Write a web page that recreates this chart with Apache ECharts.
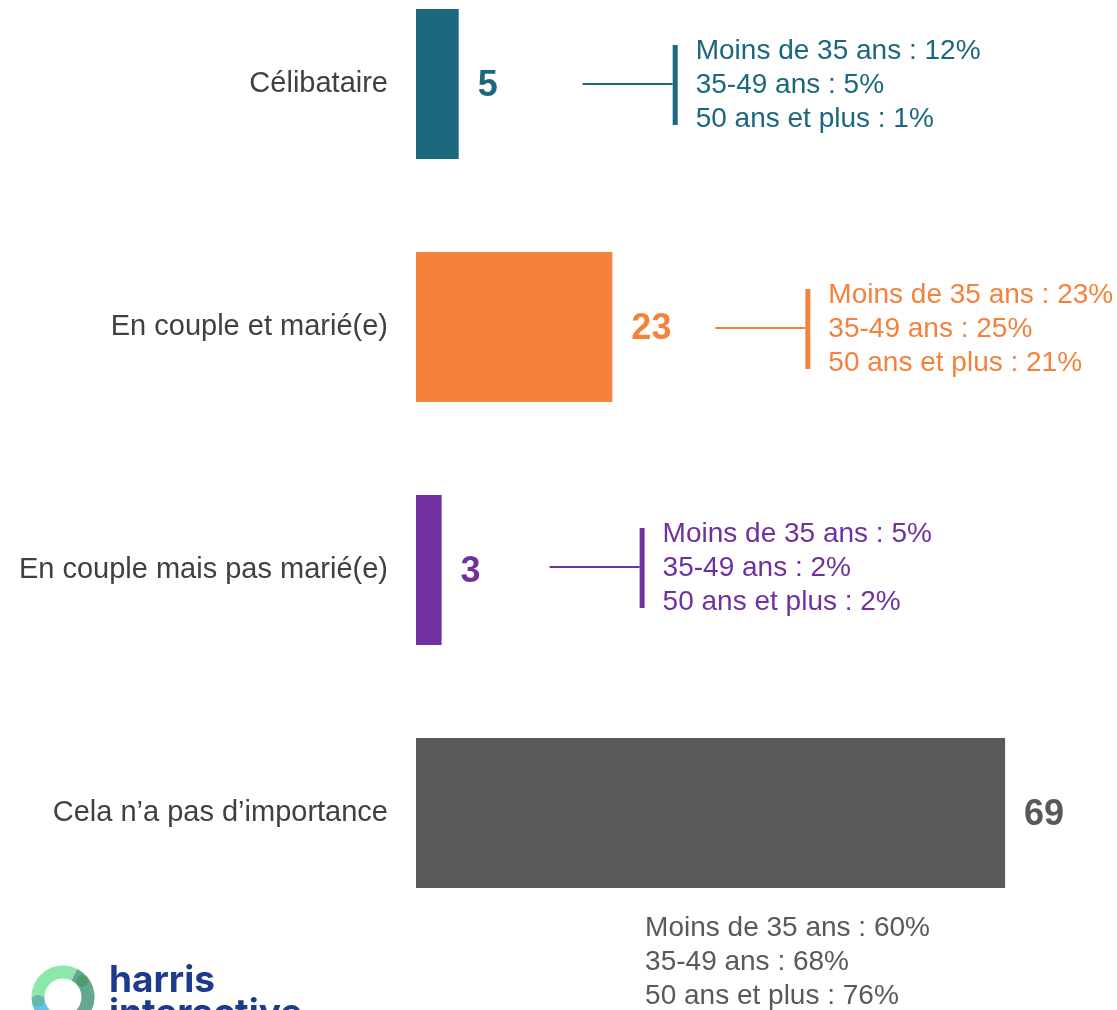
<!DOCTYPE html>
<html>
<head>
<meta charset="utf-8">
<script src="https://cdn.jsdelivr.net/npm/echarts@6/dist/echarts.min.js"></script>
<style>
  html, body { margin: 0; padding: 0; background: #fff; }
  #chart { width: 1117px; height: 1010px; }
</style>
</head>
<body>
<div id="chart"></div>
<script>
var categories = ['Célibataire', 'En couple et marié(e)', 'En couple mais pas marié(e)', 'Cela n’a pas d’importance'];
var values = [5, 23, 3, 69];
var ageLabels = ['Moins de 35 ans', '35-49 ans', '50 ans et plus'];
var under35 = [12, 23, 5, 60];
var age3549 = [5, 25, 2, 68];
var over50 = [1, 21, 2, 76];
var colors = ['#1B677D', '#F4823C', '#7030A0', '#595959'];

// where each age breakdown sits, relative to the end of its bar (px)
var notePos = [
  { dx: 124, dy: 1, bracket: true },
  { dx: 103, dy: 2, bracket: true },
  { dx: 108, dy: -2, bracket: true },
  { dx: -360, dy: 149, bracket: false }
];

var FONT = 'Liberation Sans, Arial, sans-serif';

var chart = echarts.init(document.getElementById('chart'));

var option = {
  animation: false,
  grid: { left: 416, top: -37.5, width: 683, height: 972, outerBoundsMode: 'none', containLabel: false },
  xAxis: {
    type: 'value',
    min: 0,
    max: 80,
    show: false
  },
  yAxis: {
    type: 'category',
    inverse: true,
    data: categories,
    axisLine: { show: false },
    axisTick: { show: false },
    axisLabel: {
      margin: 28,
      fontSize: 29,
      fontFamily: FONT,
      color: '#404040'
    }
  },
  series: [{
    type: 'bar',
    barWidth: 150,
    data: values.map(function (v, i) {
      return {
        value: v,
        itemStyle: { color: colors[i] },
        label: { color: colors[i] }
      };
    }),
    label: {
      show: true,
      position: 'right',
      distance: 19,
      offset: [0, 2],
      fontSize: 36,
      fontWeight: 'bold',
      fontFamily: FONT
    }
  }]
};
chart.setOption(option);

// age breakdown notes and logo
var graphics = [];
values.forEach(function (v, i) {
  var p = chart.convertToPixel({ seriesIndex: 0 }, [v, i]);
  var pos = notePos[i];
  var lines = [
    ageLabels[0] + ' : ' + under35[i] + '%',
    ageLabels[1] + ' : ' + age3549[i] + '%',
    ageLabels[2] + ' : ' + over50[i] + '%'
  ].join('\n');
  var yMid = p[1] + pos.dy;
  if (pos.bracket) {
    var x0 = p[0] + pos.dx;
    var x1 = x0 + 90;
    graphics.push({
      type: 'line',
      shape: { x1: x0, y1: yMid - 1, x2: x1, y2: yMid - 1 },
      style: { stroke: colors[i], lineWidth: 2 }
    });
    graphics.push({
      type: 'rect',
      shape: { x: x1, y: yMid - 40, width: 5, height: 80 },
      style: { fill: colors[i] }
    });
    graphics.push({
      type: 'text',
      x: x1 + 23,
      y: yMid,
      style: {
        text: lines,
        fill: colors[i],
        font: '28px ' + FONT,
        lineHeight: 34,
        verticalAlign: 'middle'
      }
    });
  } else {
    graphics.push({
      type: 'text',
      x: p[0] + pos.dx,
      y: yMid,
      style: {
        text: lines,
        fill: colors[i],
        font: '28px ' + FONT,
        lineHeight: 34,
        verticalAlign: 'middle'
      }
    });
  }
});

// harris interactive logo (cut by the bottom edge)
var cx = 63, cy = 997, r = 25;
[
  [Math.PI * 1.0, Math.PI * 1.65, '#8BE8AA'],
  [Math.PI * 1.65, Math.PI * 2.5, '#63A98F'],
  [Math.PI * 0.5, Math.PI * 1.0, '#5DC6EF']
].forEach(function (a) {
  graphics.push({
    type: 'arc',
    shape: { cx: cx, cy: cy, r: r, startAngle: a[0], endAngle: a[1] },
    style: { stroke: a[2], lineWidth: 13, fill: null }
  });
});
graphics.push({
  type: 'circle',
  shape: { cx: cx + r * Math.cos(Math.PI * 1.78), cy: cy + r * Math.sin(Math.PI * 1.78), r: 6 },
  style: { fill: '#4E9C6C' }
});
graphics.push({
  type: 'circle',
  shape: { cx: cx - r, cy: cy + 4, r: 6 },
  style: { fill: '#63B8A6' }
});
graphics.push({
  type: 'text',
  x: 109,
  y: 964,
  style: {
    text: 'harris\ninteractive',
    fill: '#1C3A8E',
    font: 'bold 37px Inter, sans-serif',
    lineHeight: 33
  }
});

chart.setOption({ graphic: graphics });
</script>
</body>
</html>
